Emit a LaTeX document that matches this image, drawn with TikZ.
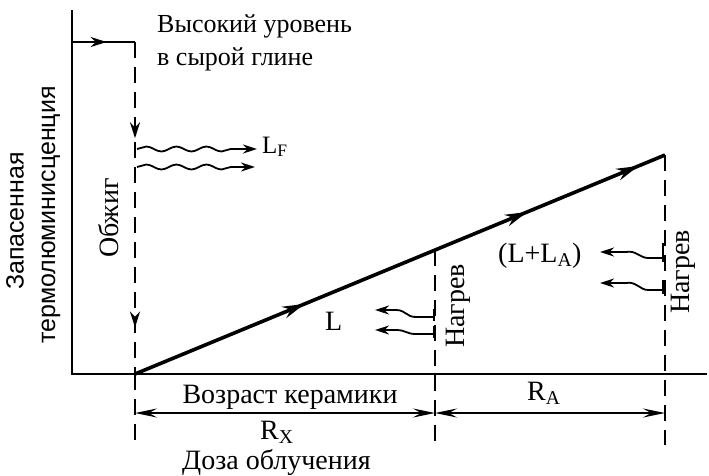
\documentclass[tikz,border=0pt]{standalone}
\usepackage{fontspec}
\setmainfont{Liberation Serif}
\newfontfamily\sansf{Liberation Sans}
\usetikzlibrary{arrows.meta,decorations.pathmorphing,decorations.markings}
\begin{document}
\begin{tikzpicture}[x=1pt,y=-1pt,
 axis/.style={line width=2.4pt},
 dline/.style={line width=2.4pt, dash pattern=on 16pt off 9pt},
 midarrow/.style={decoration={markings, mark=at position #1 with {\arrow{Stealth[length=16pt,width=10pt]}}}, postaction={decorate}},
 tipr/.style={-{Stealth[length=14pt,width=9pt]}},
 dim/.style={line width=1.8pt, {Stealth[length=22pt,width=9pt,inset=8pt]}-{Stealth[length=22pt,width=9pt,inset=8pt]}},
 wave/.style={line width=1.8pt, decorate, decoration={snake,amplitude=2.5pt,segment length=30pt,post length=16pt}},
 lbl/.style={font=\fontsize{#1}{#1}\selectfont, inner sep=0pt},
 lbl/.default=26,
 vlbl/.style={lbl=28, rotate=90},
 slbl/.style={font=\sansf\fontsize{25}{28}\selectfont, inner sep=0pt, rotate=90},
]
\useasboundingbox (0,0) rectangle (709,475);
% axes
\coordinate (top) at (72,10);
\coordinate (O) at (72,374);
\coordinate (xend) at (707,374);
\draw[axis] (top) -- (O) -- (xend);
% firing
\coordinate (h1) at (72,42);
\coordinate (h2) at (135,42);
\coordinate (f0) at (135,374);
\coordinate (fb) at (135,445);
\draw[axis, midarrow=0.55] (h1) -- (h2);
\draw[dline, decoration={markings, mark=at position 0.29 with {\arrow{Stealth[length=16pt,width=10pt]}}, mark=at position 0.86 with {\arrow{Stealth[length=16pt,width=10pt]}}}, postaction={decorate}] (h2) -- (f0);
\draw[dline] (f0) -- (fb);
% main line
\coordinate (P) at (665,155);
\draw[line width=3.6pt, decoration={markings, mark=at position 0.32 with {\arrow{Stealth[length=22pt,width=12pt]}}, mark=at position 0.74 with {\arrow{Stealth[length=22pt,width=12pt]}}, mark=at position 0.95 with {\arrow{Stealth[length=22pt,width=12pt]}}}, postaction={decorate}] (f0) -- (P);
% heating lines
\coordinate (n1t) at (435,250);
\coordinate (n1b) at (435,445);
\coordinate (n2b) at (665,445);
\draw[dline] (n1t) -- (n1b);
\draw[dline] (P) -- (n2b);
% L_F wavy arrows
\coordinate (lf1a) at (137,149);
\coordinate (lf1b) at (257,149);
\coordinate (lf2a) at (137,167);
\coordinate (lf2b) at (255,167);
\draw[wave, tipr] (lf1a) -- (lf1b);
\draw[wave, tipr] (lf2a) -- (lf2b);
\node[lbl=25, anchor=base west] (LF) at (262,153) {L\textsubscript{F}};
% L wavy arrows (left of 435)
\coordinate (la1) at (434,317);
\coordinate (lb1) at (375,310);
\coordinate (la2) at (434,334);
\coordinate (lb2) at (375,330);
\draw[line width=1.8pt] (434,309) -- (434,321);
\draw[line width=1.8pt] (434,326) -- (434,338);
\draw[line width=1.8pt, tipr] (la1) -- (416,317) .. controls (406,317) and (406,310) .. (396,310) -- (lb1);
\draw[line width=1.8pt, tipr] (la2) -- (416,334) .. controls (406,334) and (406,330) .. (396,330) -- (lb2);
\node[lbl=28, anchor=base west] (L) at (325,330) {L};
% L+LA wavy arrows (left of 665)
\coordinate (ra1) at (663,258);
\coordinate (rb1) at (600,252);
\coordinate (ra2) at (663,290);
\coordinate (rb2) at (600,283);
\draw[line width=1.8pt] (663,243) -- (663,262);
\draw[line width=1.8pt] (663,280) -- (663,294);
\draw[line width=1.8pt, tipr] (ra1) -- (648,258) .. controls (640,258) and (636,250) .. (626,252) -- (rb1);
\draw[line width=1.8pt, tipr] (ra2) -- (648,290) .. controls (640,290) and (636,281) .. (626,283) -- (rb2);
\node[lbl=28, anchor=base west] (LLA) at (498,262) {(L+L\textsubscript{A})};
% vertical labels
\node[vlbl] (nag1) at (458,306) {Нагрев};
\node[vlbl] (nag2) at (683,272) {Нагрев};
\node[vlbl] (obj) at (109,218) {Обжиг};
\node[slbl] (zap) at (15,221) {Запасенная};
\node[slbl] (term) at (51,215) {термолюминисценция};
% top text
\node[lbl, anchor=base west] (top1) at (157,32) {Высокий уровень};
\node[lbl, anchor=base west] (top2) at (157,65) {в сырой глине};
% bottom
\node[lbl=28, anchor=base] (age) at (290,403) {Возраст керамики};
\coordinate (d1) at (135,413);
\coordinate (d2) at (435,413);
\coordinate (d3) at (665,413);
\draw[dim] (d1) -- (d2);
\draw[dim] (d2) -- (d3);
\node[lbl=28, anchor=base west] (RA) at (527,400) {R\textsubscript{A}};
\node[lbl=28, anchor=base west] (RX) at (260,439) {R\textsubscript{X}};
\node[lbl=28, anchor=base west] (dose) at (182,469) {Доза облучения};
\end{tikzpicture}
\end{document}
